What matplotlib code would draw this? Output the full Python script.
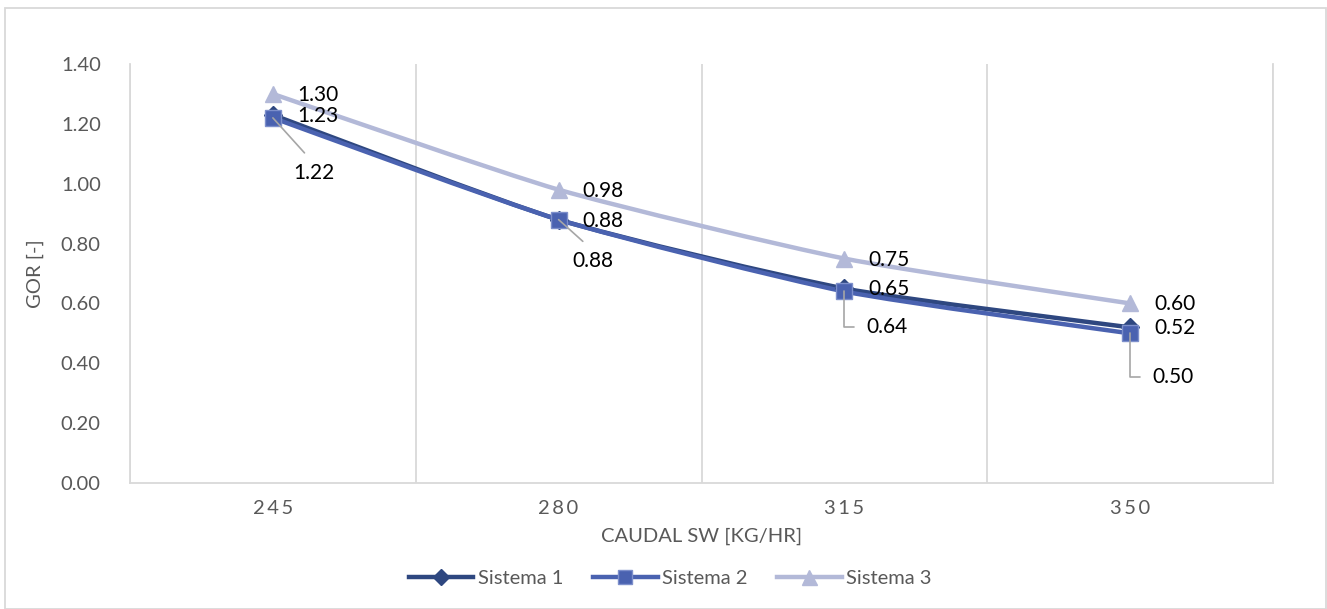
import numpy as np
import matplotlib
matplotlib.use("Agg")
import matplotlib.pyplot as plt
from matplotlib.path import Path
from matplotlib.patches import PathPatch, Rectangle
from matplotlib.lines import Line2D

plt.rcParams['font.family'] = ['Lato', 'DejaVu Sans']

categories = ["245", "280", "315", "350"]
sistema_1 = [1.23, 0.88, 0.65, 0.52]
sistema_2 = [1.22, 0.88, 0.64, 0.50]
sistema_3 = [1.30, 0.98, 0.75, 0.60]
y_ticks = [0.0, 0.2, 0.4, 0.6, 0.8, 1.0, 1.2, 1.4]

c1 = "#2E4780"
c2 = "#4A62B0"
c3 = "#B3B9D8"
grey = "#595959"
grid = "#D9D9D9"

fig = plt.figure(figsize=(13.27, 6.09), dpi=100)
ax = fig.add_axes([130 / 1327, 1 - 483 / 609, (1273 - 130) / 1327, (483 - 64) / 609])

x = np.arange(len(categories)) + 0.5


def smooth_path(xs, ys, k=10.0):
    """Bezier spline through the points (Catmull-Rom style tangents)."""
    pts = np.column_stack([xs, ys])
    n = len(pts)
    verts = [pts[0]]
    codes = [Path.MOVETO]
    for i in range(n - 1):
        p0 = pts[i - 1] if i > 0 else pts[i]
        p1 = pts[i]
        p2 = pts[i + 1]
        p3 = pts[i + 2] if i + 2 < n else pts[i + 1]
        cp1 = p1 + (p2 - p0) / k
        cp2 = p2 - (p3 - p1) / k
        verts += [cp1, cp2, p2]
        codes += [Path.CURVE4] * 3
    return Path(verts, codes)


series = [
    ("Sistema 1", sistema_1, c1, "D", 9, c1),
    ("Sistema 2", sistema_2, c2, "s", 11, "#7D8FCB"),
    ("Sistema 3", sistema_3, c3, "^", 12, c3),
]

# draw the lighter series first so the darker ones sit on top
for name, vals, col, mk, ms, ec in [series[2], series[0], series[1]]:
    ax.add_patch(PathPatch(smooth_path(x, vals), fill=False, edgecolor=col,
                           lw=3.2, capstyle='round', joinstyle='round', zorder=3))
    ax.plot(x, vals, linestyle='none', marker=mk, markersize=ms, color=col,
            markeredgecolor=ec, markeredgewidth=1.0, zorder=4)

label_kw = dict(fontsize=15, color="black", va="center", ha="left",
                textcoords="offset pixels", zorder=5)

for xi, v in zip(x, sistema_3):
    ax.annotate(f"{v:.2f}", (xi, v), xytext=(24, -1), **label_kw)
for xi, v in zip(x, sistema_1):
    ax.annotate(f"{v:.2f}", (xi, v), xytext=(24, -1), **label_kw)

# Sistema 2 labels carry leader lines back to their markers
s2_offsets = [(20, -55, "diag"), (14, -41, "diag"), (22, -36, "elbow"), (22, -44, "elbow")]
for xi, v, (dx, dy, kind) in zip(x, sistema_2, s2_offsets):
    if kind == "diag":
        ap = dict(arrowstyle='-', color="#A6A6A6", lw=1.2, shrinkA=7, shrinkB=0,
                  relpos=(0.5, 1.0))
    else:
        ap = dict(arrowstyle='-', color="#A6A6A6", lw=1.2, shrinkA=7, shrinkB=0,
                  relpos=(0.0, 0.5),
                  connectionstyle="angle,angleA=0,angleB=90,rad=0")
    ax.annotate(f"{v:.2f}", (xi, v), xytext=(dx, dy), arrowprops=ap, **label_kw)

ax.set_xlim(0, len(categories))
ax.set_ylim(0, 1.4)
ax.set_yticks(y_ticks)
ax.set_yticklabels([f"{t:.2f}" for t in y_ticks])
ax.set_xticks(x)
ax.set_xticklabels(["\u2009".join(c) for c in categories])
ax.set_xticks(np.arange(len(categories) + 1), minor=True)
ax.grid(True, which='minor', axis='x', color=grid, lw=1.3)
ax.tick_params(axis='both', which='both', length=0, colors=grey, labelsize=14.5)
ax.tick_params(axis='y', pad=21)
ax.tick_params(axis='x', pad=12)
ax.spines["top"].set_visible(False)
for side in ["left", "right", "bottom"]:
    ax.spines[side].set_color(grid)
    ax.spines[side].set_linewidth(1.3)

ax.set_xlabel("CAUDAL SW [KG/HR]", fontsize=14.5, color=grey, labelpad=8)
ax.set_ylabel("GOR [-]", fontsize=14.5, color=grey, labelpad=12)

handles = [Line2D([0], [0], color=col, lw=3.2, marker=mk, markersize=ms * 0.9,
                  markeredgecolor=ec)
           for name, vals, col, mk, ms, ec in series]
fig.legend(handles, [s[0] for s in series], loc="center", ncol=3,
           bbox_to_anchor=(0.505, 1 - 578 / 609), frameon=False, fontsize=14.5,
           labelcolor=grey, handlelength=3.2, handletextpad=0.2, columnspacing=1.5)

fig.patches.append(Rectangle((5 / 1327, 0.0), 1 - 6 / 1327, 1 - 8 / 609,
                             transform=fig.transFigure, fill=False,
                             edgecolor=grid, lw=1.3))

fig.savefig("out.png", dpi=100, facecolor="white")
